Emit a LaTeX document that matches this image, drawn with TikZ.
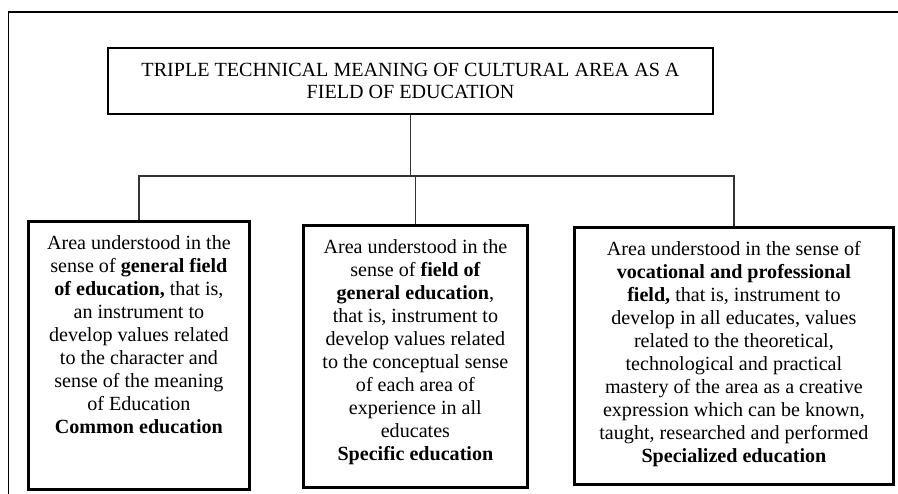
\documentclass[tikz,border=0pt]{standalone}
\usepackage{fontspec}
\setmainfont{Liberation Serif}
\usetikzlibrary{positioning}

% text of a lower box, set from its top edge down
\newcommand{\areatext}[3]{%
  \begin{minipage}[c][#2][t]{#1}\centering\vspace*{14pt}#3\end{minipage}}

\begin{document}
\begin{tikzpicture}[x=1pt, y=-1pt,
    every node/.style={font=\fontsize{20.1}{23}\selectfont},
    areabox/.style={draw, line width=2.8pt, inner sep=0pt, anchor=north west},
    link/.style={line width=1.8pt, draw=black!80}]
    \useasboundingbox (0,0) rectangle (898,494);
    % page frame
    \draw[line width=1.1pt] (8.5,494) -- (8.5,12) -- (898,12);

    \node (title) [draw, line width=2.8pt, minimum width=605pt, minimum height=66pt, align=center, font=\fontsize{20.1}{21.7}\selectfont] at (410.5,81) {TRIPLE TECHNICAL MEANING OF CULTURAL AREA AS A\\FIELD OF EDUCATION};

    \node (common) [areabox] at (27,220) {\areatext{221pt}{268pt}{Area understood in the\\sense of \textbf{general field}\\\textbf{of education,} that is,\\an instrument to\\develop values related\\to the character and\\sense of the meaning\\of Education\\\textbf{Common education}}};
    \node (specific) [areabox] at (302,224) {\areatext{224pt}{262pt}{Area understood in the\\sense of \textbf{field of}\\\textbf{general education},\\that is, instrument to\\develop values related\\to the conceptual sense\\of each area of\\experience in all\\educates\\\textbf{Specific education}}};
    \node (special) [areabox] at (573,226) {\areatext{319pt}{257pt}{Area understood in the sense of\\\textbf{vocational and professional}\\\textbf{field,} that is, instrument to\\develop in all educates, values\\related to the theoretical,\\technological and practical\\mastery of the area as a creative\\expression which can be known,\\taught, researched and performed\\\textbf{Specialized education}}};

    \coordinate (split) at (title.south |- 0,176);
    \draw[link] (title.south) -- (split);
    \draw[link] (common.north) -- (common.north |- split) -- (special.north |- split) -- (special.north);
    \draw[link] (specific.north |- split) -- (specific.north);
\end{tikzpicture}
\end{document}
